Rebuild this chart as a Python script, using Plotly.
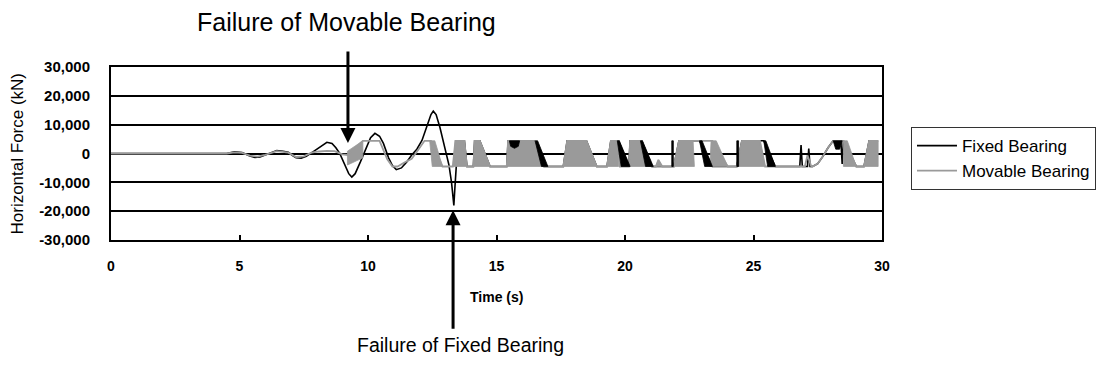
import plotly.graph_objects as go

# ---- time histories (time in s, horizontal force in kN) ----
fixed_t = [0, 4.5, 4.8, 5.1, 5.4, 5.6, 5.8, 6.0, 6.25, 6.45, 6.7, 6.9, 7.05, 7.2, 7.4, 7.6,
           7.8, 8.0, 8.2, 8.4, 8.6, 8.75, 8.9, 9.1, 9.25, 9.37, 9.5, 9.7, 9.9, 10.1, 10.27,
           10.45, 10.6, 10.8, 10.95, 11.1, 11.3, 11.5, 11.7, 11.9, 12.1, 12.3, 12.45, 12.54,
           12.65, 12.8, 12.95, 13.06, 13.15, 13.25, 13.3, 13.34, 13.38, 13.45,
           13.5, 13.75, 13.85, 14.1, 14.15, 14.35, 14.75, 15.4, 15.45, 16.45, 16.85, 17.6,
           17.75, 18.5, 18.9, 19.3, 19.45, 19.75, 20.15, 20.2, 20.65, 21.05, 21.9, 22.1,
           22.9, 23.4, 24.35, 24.55, 25.4, 25.85, 26.8, 26.85, 26.9, 27.1, 27.15, 27.2,
           27.3, 27.5, 27.7, 27.9, 28.1, 28.4, 28.45, 28.5, 29.0, 29.3, 29.5, 29.85]
fixed_v = [0, 0, 600, 300, -900, -1400, -1200, -600, 300, 1000, 800, 400, -600, -1500,
           -1600, -1000, 200, 1500, 2900, 3900, 3500, 2000, 0, -4200, -7000, -8200, -7000,
           -3000, 1500, 5500, 7000, 6000, 3500, -1500, -4200, -5600, -5000, -3000, -500,
           1500, 4500, 10000, 13500, 14700, 13500, 9000, 3000, -300, -4000, -10000, -15000,
           -18000, -12000, -2000,
           4400, 4400, -4500, -4500, 4400, 4400, -4500, -4500, 4400, 4400, -4500, -4500,
           4400, 4400, -4500, -4500, 4400, 4400, -4500, 4400, 4400, -4500, -4500, 4400,
           4400, -4500, -4500, 4400, 4400, -4500, -4500, 2900, -4500, -4500, 1700, -4500,
           -4500, -3500, -1000, 2000, 4400, 4400, -3600, 4400, -4500, -4500, 4400, 4400]

move_t = [0, 4.5, 4.8, 5.1, 5.4, 5.7, 6.0, 6.45, 6.9, 7.2, 7.5, 7.8, 8.1, 8.4, 8.7, 9.0,
          9.2, 9.5, 9.8, 10.45, 10.6, 10.75, 10.95, 11.15, 11.4, 11.7, 11.95, 12.2, 12.45,
          12.9, 13.3, 13.4, 13.75, 13.85, 14.1, 14.15, 14.35, 14.75, 15.4, 15.45, 16.45,
          16.85, 17.6, 17.75, 18.5, 18.9, 19.3, 19.45, 19.75, 19.8, 20.15, 20.2, 20.65,
          21.05, 21.2, 21.3, 21.45, 21.9, 22.1, 23.4, 24.0, 24.35, 24.55, 25.25, 25.45,
          26.8, 27.0, 27.1, 27.25, 27.3, 27.5, 27.7, 27.9, 28.1, 28.5, 29.0, 29.3, 29.5,
          29.85]
move_v = [0, 0, 400, 200, -700, -1100, -500, 800, 300, -1200, -1000, 300, 700, 900, 800,
          -300, -500, 2000, 4400, 4400, 1500, -2000, -4500, -4500, -3200, -1800, 1200, 4400,
          4400, -4500, -4500, 4400, 4400, -4500, -4500, 4400, 4400, -4500, -4500, 4400,
          4400, -4500, -4500, 4400, 4400, -4500, -4500, 4400, 4400, -4500, -4500, 4400,
          4400, -4500, -4500, -2200, -4500, -4500, 4400, 4400, -4500, -4500, 4400, 4400,
          -4500, -4500, -4500, -600, -4500, -4500, -3500, -1000, 2000, 4400, 4400, -4500,
          -4500, 4400, 4400]

# stick-slip bursts that read as solid bands (outline of each burst)
move_burst_t = [[9.2, 9.2, 9.8, 9.8], [12.4, 12.6, 12.9, 12.5], [13.3, 13.4, 13.75, 13.85],
                [14.1, 14.15, 14.35, 14.75], [15.4, 15.45, 16.45, 16.85],
                [17.6, 17.75, 18.5, 18.9], [19.3, 19.45, 19.75, 19.75],
                [20.15, 20.2, 20.65, 21.05], [21.2, 21.3, 21.45], [21.9, 22.1, 22.65, 22.7],
                [23.3, 23.35, 23.55, 24.0], [24.35, 24.55, 25.25, 25.45],
                [28.5, 28.5, 28.65, 29.0], [29.3, 29.5, 29.85, 29.85]]
move_burst_v = [[-4000, 800, 4400, -1500], [4400, 4400, -4500, -4500],
                [-4500, 4400, 4400, -4500], [-4500, 4400, 4400, -4500],
                [-4500, 4400, 4400, -4500], [-4500, 4400, 4400, -4500],
                [-4500, 4400, 4400, -4500], [-4500, 4400, 4400, -4500],
                [-4500, -2200, -4500], [-4500, 4400, 4400, -4500],
                [-4500, 4400, 4400, -4500], [-4500, 4400, 4400, -4500],
                [-4500, 4400, 4400, -4500], [-4500, 4400, 4400, -4500]]

fixed_burst_t = [[15.5, 15.55, 15.7, 15.85, 15.9], [16.5, 16.6, 17.0, 16.75],
                 [19.7, 19.78, 20.2, 19.85], [20.6, 20.68, 21.1, 20.8],
                 [21.82, 21.88, 21.88, 21.82], [22.9, 23.0, 23.4, 23.1],
                 [24.35, 24.42, 24.42, 24.35], [25.4, 25.48, 25.85, 25.55],
                 [28.1, 28.2, 28.35, 28.45]]
fixed_burst_v = [[4400, 2500, 1800, 2500, 4400], [4400, 4400, -4500, -4500],
                 [4400, 4400, -4500, -4500], [4400, 4400, -4500, -4500],
                 [-4500, -4500, 4400, 4400], [4400, 4400, -4500, -4500],
                 [-4500, -4500, 4400, 4400], [4400, 4400, -4500, -4500],
                 [4400, 1500, 1500, 4400]]

x_ticks = [0, 5, 10, 15, 20, 25, 30]
y_ticks = [-30000, -20000, -10000, 0, 10000, 20000, 30000]
y_tick_text = ["-30,000", "-20,000", "-10,000", "0", "10,000", "20,000", "30,000"]

BLACK = "#000000"
GREY = "#9a9a9a"
FONT = "Arial, Liberation Sans, sans-serif"


def join_polys(ts, vs):
    xs, ys = [], []
    for t, v in zip(ts, vs):
        xs += list(t) + [t[0], None]
        ys += list(v) + [v[0], None]
    return xs, ys


fig = go.Figure()
fig.add_trace(go.Scatter(x=fixed_t, y=fixed_v, mode="lines", name="Fixed Bearing",
                         line=dict(color=BLACK, width=1.6)))
bx, by = join_polys(move_burst_t, move_burst_v)
fig.add_trace(go.Scatter(x=bx, y=by, mode="lines", fill="toself", fillcolor=GREY,
                         line=dict(color=GREY, width=0.8), showlegend=False,
                         hoverinfo="skip"))
fig.add_trace(go.Scatter(x=move_t, y=move_v, mode="lines", name="Movable Bearing",
                         line=dict(color=GREY, width=1.8)))
fx, fy = join_polys(fixed_burst_t, fixed_burst_v)
fig.add_trace(go.Scatter(x=fx, y=fy, mode="lines", fill="toself", fillcolor=BLACK,
                         line=dict(color=BLACK, width=0.8), showlegend=False,
                         hoverinfo="skip"))

fig.update_layout(
    width=1104, height=369,
    margin=dict(l=111, r=222, t=67, b=129, autoexpand=False),
    plot_bgcolor="white", paper_bgcolor="white",
    font=dict(family=FONT, color=BLACK),
    legend=dict(x=1.0376, y=0.653, xanchor="left", yanchor="top",
                bordercolor="#333333", borderwidth=1, bgcolor="white",
                font=dict(size=17, family=FONT), itemwidth=40,
                tracegroupgap=0),
)
fig.update_xaxes(range=[0, 30], tickvals=x_ticks, ticktext=[str(v) for v in x_ticks],
                 ticks="inside", ticklen=5, tickwidth=1.5, tickcolor=BLACK,
                 showline=True, linecolor=BLACK, linewidth=2, mirror=True,
                 showgrid=False, zeroline=False, ticklabelstandoff=12,
                 tickfont=dict(size=14, weight="bold", family=FONT))
fig.update_yaxes(range=[-30000, 30000], tickvals=y_ticks, ticktext=y_tick_text,
                 ticks="", showline=True, linecolor=BLACK, linewidth=2, mirror=True,
                 showgrid=True, gridcolor=BLACK, gridwidth=2, zeroline=False,
                 ticklabelstandoff=16,
                 tickfont=dict(size=15, weight="bold", family=FONT))

annotations = [
    dict(text="Horizontal Force (kN)", x=-0.1219, y=0.5, xref="paper", yref="paper",
         textangle=-90, showarrow=False, xanchor="center", yanchor="middle",
         font=dict(size=17, family=FONT)),
    dict(text="<b>Time (s)</b>", x=0.5, y=-0.329, xref="paper", yref="paper",
         showarrow=False, xanchor="center", yanchor="middle",
         font=dict(size=14, family=FONT)),
    dict(text="Failure of Movable Bearing", x=9.15, y=1.26, xref="x", yref="paper",
         showarrow=False, xanchor="center", yanchor="middle",
         font=dict(size=25, family=FONT)),
    dict(text="Failure of Fixed Bearing", x=13.58, y=-0.607, xref="x", yref="paper",
         showarrow=False, xanchor="center", yanchor="middle",
         font=dict(size=19.5, family=FONT)),
    dict(text="", x=9.22, y=3600, xref="x", yref="y", ax=0, ay=-93,
         showarrow=True, arrowhead=2, arrowwidth=3, arrowsize=1, arrowcolor=BLACK),
    dict(text="", x=13.31, y=-19700, xref="x", yref="y", ax=0, ay=120,
         showarrow=True, arrowhead=2, arrowwidth=3, arrowsize=1, arrowcolor=BLACK),
]
fig.update_layout(annotations=annotations)

fig.write_html("out.html")
